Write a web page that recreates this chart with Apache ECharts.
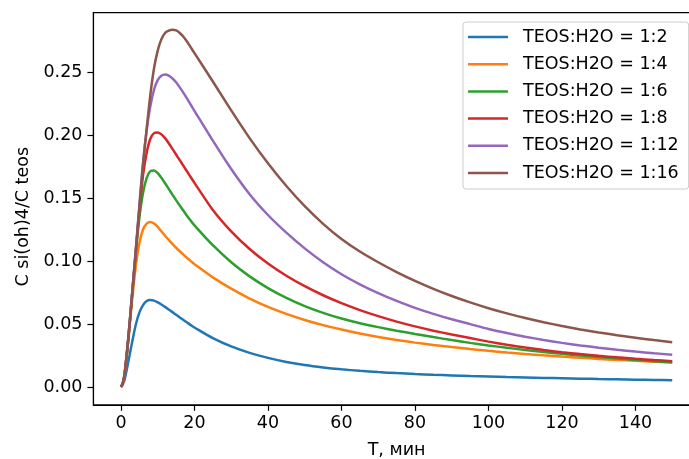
<!DOCTYPE html>
<html>
<head>
<meta charset="utf-8">
<script src="https://cdn.jsdelivr.net/npm/echarts@6/dist/echarts.min.js"></script>
<style>
  html, body { margin: 0; padding: 0; background: #fff; }
  #chart { width: 689px; height: 459px; }
</style>
</head>
<body>
<div id="chart"></div>
<script>
// time, min
const times = [0, 0.5, 1, 2, 3, 4, 5, 6, 7, 8, 9, 10, 11, 12, 13, 14, 15, 16, 17, 18, 19, 20,
  25, 30, 35, 40, 45, 50, 55, 60, 65, 70, 75, 80, 85, 90, 95, 100, 105, 110, 115, 120, 125, 130, 135, 140, 145, 150];

const ratio_1_2 = [0, 0.002, 0.006, 0.020, 0.035, 0.049, 0.059, 0.065, 0.0683, 0.069, 0.0685, 0.0672, 0.0655, 0.0636, 0.0615, 0.0594, 0.0573, 0.0552, 0.0531, 0.0511, 0.0491, 0.0472,
  0.0388, 0.0322, 0.0271, 0.0231, 0.0199, 0.0174, 0.0155, 0.0140, 0.0128, 0.0118, 0.0110, 0.0103, 0.0097, 0.0092, 0.0087, 0.0083, 0.0079, 0.0076, 0.0072, 0.0069, 0.0066, 0.0063, 0.0061, 0.0058, 0.0056, 0.0054];
const ratio_1_4 = [0, 0.003, 0.010, 0.037, 0.068, 0.095, 0.114, 0.125, 0.1297, 0.131, 0.1298, 0.127, 0.1235, 0.120, 0.1167, 0.1135, 0.1105, 0.1077, 0.105, 0.1024, 0.0999, 0.0975,
  0.087, 0.078, 0.0702, 0.0636, 0.058, 0.0532, 0.0491, 0.0456, 0.0424, 0.0396, 0.0372, 0.0352, 0.0334, 0.0317, 0.0301, 0.0287, 0.0274, 0.0262, 0.0251, 0.0241, 0.0232, 0.0223, 0.0215, 0.0208, 0.0201, 0.0195];
const ratio_1_6 = [0, 0.003, 0.010, 0.038, 0.072, 0.105, 0.134, 0.154, 0.166, 0.1713, 0.1718, 0.1697, 0.166, 0.1617, 0.1572, 0.1527, 0.1483, 0.144, 0.1398, 0.1358, 0.132, 0.1283,
  0.1125, 0.0990, 0.0878, 0.0785, 0.0707, 0.0642, 0.0588, 0.0543, 0.0506, 0.0475, 0.0447, 0.0421, 0.0396, 0.0372, 0.035, 0.033, 0.0311, 0.0294, 0.0278, 0.0263, 0.025, 0.0238, 0.0226, 0.0215, 0.0205, 0.0196];
const ratio_1_8 = [0, 0.003, 0.010, 0.038, 0.072, 0.106, 0.140, 0.168, 0.186, 0.197, 0.2015, 0.202, 0.2005, 0.1975, 0.1935, 0.189, 0.1845, 0.180, 0.1755, 0.171, 0.1665, 0.162,
  0.1405, 0.1235, 0.1095, 0.098, 0.0883, 0.080, 0.0728, 0.0665, 0.061, 0.0562, 0.0519, 0.0481, 0.0447, 0.0416, 0.0388, 0.036, 0.0335, 0.0313, 0.0293, 0.0276, 0.0261, 0.0247, 0.0235, 0.0224, 0.0214, 0.0205];
const ratio_1_12 = [0, 0.003, 0.011, 0.039, 0.073, 0.108, 0.144, 0.178, 0.204, 0.223, 0.236, 0.2435, 0.247, 0.248, 0.2472, 0.245, 0.2418, 0.2378, 0.2334, 0.2288, 0.224, 0.2192,
  0.1955, 0.173, 0.153, 0.1365, 0.1225, 0.110, 0.099, 0.0895, 0.0815, 0.0745, 0.0683, 0.0628, 0.058, 0.0537, 0.0499, 0.046, 0.0428, 0.0399, 0.0373, 0.035, 0.033, 0.0312, 0.0296, 0.0281, 0.0268, 0.0256];
const ratio_1_16 = [0, 0.003, 0.011, 0.039, 0.073, 0.107, 0.142, 0.176, 0.205, 0.232, 0.253, 0.267, 0.276, 0.281, 0.2828, 0.2835, 0.283, 0.281, 0.278, 0.274, 0.2695, 0.265,
  0.2425, 0.2195, 0.1975, 0.1775, 0.1595, 0.1435, 0.1295, 0.1175, 0.1075, 0.099, 0.0912, 0.0842, 0.0779, 0.0722, 0.0671, 0.0625, 0.0584, 0.0547, 0.0514, 0.0484, 0.0457, 0.0433, 0.0411, 0.0391, 0.0372, 0.0355];

const seriesNames = ['TEOS:H2O = 1:2', 'TEOS:H2O = 1:4', 'TEOS:H2O = 1:6', 'TEOS:H2O = 1:8', 'TEOS:H2O = 1:12', 'TEOS:H2O = 1:16'];
const seriesValues = [ratio_1_2, ratio_1_4, ratio_1_6, ratio_1_8, ratio_1_12, ratio_1_16];
const colors = ['#1f77b4', '#ff7f0e', '#2ca02c', '#d62728', '#9467bd', '#8c564b'];

const xTicks = [0, 20, 40, 60, 80, 100, 120, 140];
const yTicks = [0, 0.05, 0.10, 0.15, 0.20, 0.25];

const font = 'DejaVu Sans';
const fontSize = 17.5;
const axisColor = '#000';

const chart = echarts.init(document.getElementById('chart'));

chart.setOption({
  animation: false,
  color: colors,
  textStyle: { fontFamily: font },
  grid: {
    left: 93.4,
    top: 12.6,
    right: -10.8,
    bottom: 54.2,
    show: true,
    borderColor: axisColor,
    borderWidth: 1.2,
    outerBoundsMode: 'none',
  },
  legend: {
    orient: 'vertical',
    left: 463,
    top: 22,
    padding: [5, 10, 6, 5],
    itemWidth: 40,
    itemHeight: 2.5,
    itemGap: 7.2,
    icon: 'rect',
    backgroundColor: '#fff',
    borderColor: '#cccccc',
    borderWidth: 1,
    borderRadius: 3,
    data: seriesNames,
    textStyle: {
      color: '#000',
      fontFamily: font,
      fontSize: fontSize,
      lineHeight: 20,
      padding: [0, 0, 0, 10],
    },
  },
  xAxis: {
    type: 'value',
    min: -7.5,
    max: 157.5,
    name: 'T, мин',
    nameLocation: 'middle',
    nameGap: 37,
    nameTextStyle: { color: '#000', fontFamily: font, fontSize: fontSize },
    axisLine: { show: true, onZero: false, lineStyle: { color: axisColor, width: 1.2 } },
    axisTick: { show: true, length: 6, customValues: xTicks, lineStyle: { color: axisColor, width: 1.2 } },
    axisLabel: { color: '#000', fontFamily: font, fontSize: fontSize, margin: 10, customValues: xTicks },
    splitLine: { show: false },
  },
  yAxis: {
    type: 'value',
    min: -0.01415,
    max: 0.29715,
    name: 'C si(oh)4/C teos',
    nameLocation: 'middle',
    nameGap: 58,
    nameTextStyle: { color: '#000', fontFamily: font, fontSize: fontSize, padding: [0, 16, 0, 0] },
    axisLine: { show: true, onZero: false, lineStyle: { color: axisColor, width: 1.2 } },
    axisTick: { show: true, length: 6, customValues: yTicks, lineStyle: { color: axisColor, width: 1.2 } },
    axisLabel: {
      color: '#000',
      fontFamily: font,
      fontSize: fontSize,
      margin: 11,
      customValues: yTicks,
      formatter: (v) => v.toFixed(2),
    },
    splitLine: { show: false },
  },
  series: seriesNames.map((name, i) => ({
    name: name,
    type: 'line',
    showSymbol: false,
    smooth: 0.3,
    data: times.map((t, j) => [t, seriesValues[i][j]]),
    lineStyle: { width: 2.5, color: colors[i] },
    itemStyle: { color: colors[i] },
    emphasis: { disabled: true },
  })),
});
</script>
</body>
</html>
